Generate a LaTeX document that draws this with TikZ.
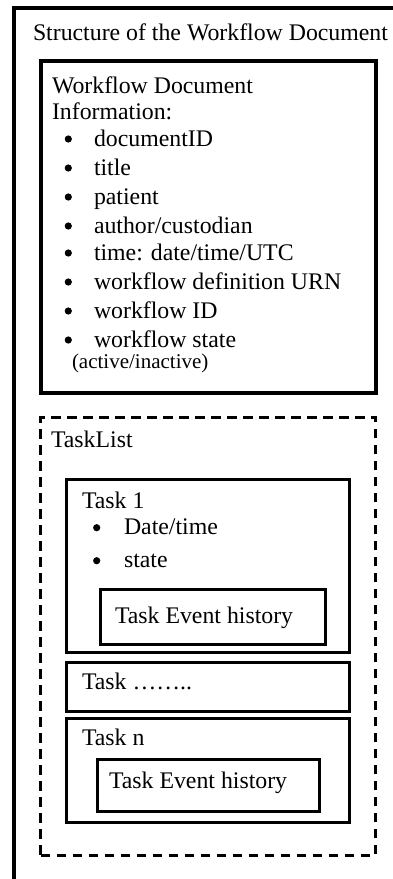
\documentclass[tikz,border=0pt]{standalone}
\usepackage{fontspec}
\setmainfont{Liberation Serif}
\begin{document}
\begin{tikzpicture}[x=1pt,y=-1pt,
  txt/.style={anchor=base west,inner sep=0pt,outer sep=0pt,font=\fontsize{23.8}{28}\selectfont},
  small/.style={anchor=base west,inner sep=0pt,outer sep=0pt,font=\fontsize{21}{25}\selectfont},
  box/.style={draw,line width=3pt,anchor=north west,outer sep=0pt,inner sep=0pt},
  dbox/.style={box,dash pattern=on 9.5pt off 6.5pt},
  bul/.style={fill=black}]
\useasboundingbox (0,0) rectangle (393,879);
\fill[white] (0,0) rectangle (393,879);
% outer frame (right and bottom edges lie outside the picture)
\draw[line width=3.2pt] (14,885) -- (14,8) -- (400,8);
\node[txt] (title) at (33,40) {Structure of the Workflow Document};
% document information box
\node[box,line width=3.2pt,minimum width=335pt,minimum height=332pt] (info) at (41,61) {};
\node[txt] (wd) at (52,93) {Workflow Document};
\node[txt] (inf) at (52,119) {Information:};
\foreach \t/\y [count=\i] in {documentID/146,title/175,patient/204,author\slash custodian/233,time: date\slash time\slash UTC/260,workflow definition URN/289,workflow ID/318,workflow state/347}{
  \fill[bul] (68.3,\y-7) circle (3.6pt);
  \node[txt] (item\i) at (94,\y) {\t};
}
\node[small] (act) at (72,368) {(active/inactive)};
% task list
\node[dbox,minimum width=335pt,minimum height=438pt] (tl) at (40.5,417) {};
\node[txt] (tltxt) at (51,447) {TaskList};
% task 1
\node[box,minimum width=282.3pt,minimum height=173.7pt] (t1) at (66.7,479) {};
\node[txt] (t1txt) at (82,508) {Task 1};
\fill[bul] (96.7,527.7) circle (3.6pt);
\node[txt] (t1a) at (124,534) {Date/time};
\fill[bul] (96.7,560.7) circle (3.6pt);
\node[txt] (t1b) at (124,567) {state};
\node[box,minimum width=225pt,minimum height=55pt] (teh1) at (100,589.3) {};
\node[txt] (teh1txt) at (115,623) {Task Event history};
% task ...
\node[box,minimum width=282.3pt,minimum height=48.7pt] (tdots) at (66.7,662.3) {};
\node[txt] (tdotstxt) at (82,689) {Task ……..};
% task n
\node[box,minimum width=282.3pt,minimum height=104.4pt] (tn) at (66.7,718.3) {};
\node[txt] (tntxt) at (82,745) {Task n};
\node[box,minimum width=222pt,minimum height=52pt] (teh2) at (97.3,759) {};
\node[txt] (teh2txt) at (109,788) {Task Event history};
\end{tikzpicture}
\end{document}
